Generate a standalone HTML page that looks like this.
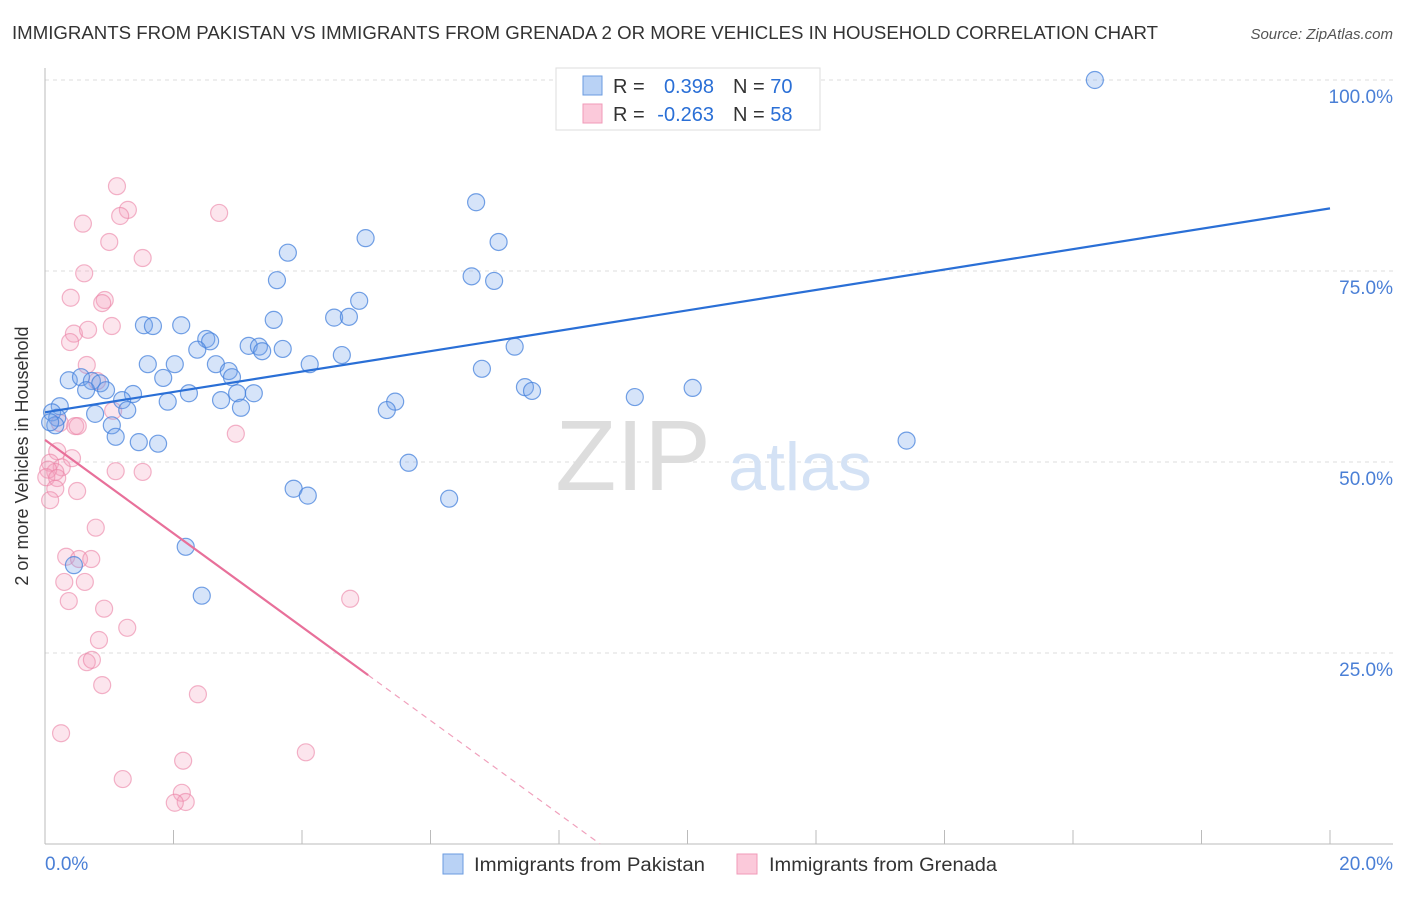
<!DOCTYPE html>
<html><head><meta charset="utf-8"><style>
body{margin:0;background:#fff;font-family:"Liberation Sans",sans-serif;}
svg text{font-family:"Liberation Sans",sans-serif;}
</style></head><body>
<svg id="chart" width="1406" height="892" xmlns="http://www.w3.org/2000/svg">
<text x="12" y="39" font-size="18" fill="#333" textLength="1146" lengthAdjust="spacingAndGlyphs">IMMIGRANTS FROM PAKISTAN VS IMMIGRANTS FROM GRENADA 2 OR MORE VEHICLES IN HOUSEHOLD CORRELATION CHART</text>
<text x="1393" y="39" font-size="15" fill="#555" font-style="italic" text-anchor="end">Source: ZipAtlas.com</text>
<g id="grid"></g>
<text x="633" y="490" font-size="100" fill="#ddd" font-family="Liberation Serif" text-anchor="middle">ZIP</text>
<text x="800" y="490" font-size="68" fill="#d4e2f5" text-anchor="middle">atlas</text>
<g id="axes"></g>
<g id="pts"></g>
<g id="trend"></g>
<text x="28" y="456" font-size="18" fill="#333" text-anchor="middle" transform="rotate(-90 28 456)">2 or more Vehicles in Household</text>
<g>
<rect x="556" y="68" width="264" height="62" fill="#fff" stroke="#ddd"/>
<rect x="583" y="76" width="19" height="19" fill="#b9d2f5" stroke="#6a9be0"/>
<rect x="583" y="104" width="19" height="19" fill="#fbc9da" stroke="#f09ab8"/>
<text x="613" y="93" font-size="20" fill="#333">R =</text>
<text x="714" y="93" font-size="20" fill="#2a6fd6" text-anchor="end">0.398</text>
<text x="733" y="93" font-size="20" fill="#333">N = <tspan fill="#2a6fd6">70</tspan></text>
<text x="613" y="121" font-size="20" fill="#333">R =</text>
<text x="714" y="121" font-size="20" fill="#2a6fd6" text-anchor="end">-0.263</text>
<text x="733" y="121" font-size="20" fill="#333">N = <tspan fill="#2a6fd6">58</tspan></text>
</g>
<g>
<rect x="443" y="854" width="20" height="20" fill="#b9d2f5" stroke="#6a9be0"/>
<text x="474" y="871" font-size="19" fill="#333" textLength="231" lengthAdjust="spacingAndGlyphs">Immigrants from Pakistan</text>
<rect x="737" y="854" width="20" height="20" fill="#fbc9da" stroke="#f09ab8"/>
<text x="769" y="871" font-size="19" fill="#333" textLength="228" lengthAdjust="spacingAndGlyphs">Immigrants from Grenada</text>
</g>
</svg>
<script>
const blueX=[16.34,6.71,4.99,7.06,3.78,6.64,6.99,3.61,4.89,4.50,4.73,3.56,1.54,1.68,2.12,2.51,2.57,2.37,3.17,3.33,3.38,3.70,4.62,7.31,1.60,2.02,2.66,4.12,6.80,2.86,2.91,0.37,0.56,0.73,0.86,1.84,0.64,0.95,1.37,2.24,2.99,3.25,1.20,1.91,2.74,5.45,7.47,7.58,9.18,10.08,0.23,1.28,0.78,3.05,5.32,0.11,0.19,0.16,0.08,1.04,1.10,1.46,1.76,13.41,5.66,3.87,4.09,6.29,2.19,0.45,2.44];
const blueY=[100.0,84.0,79.3,78.8,77.4,74.3,73.7,73.8,71.1,68.9,69.0,68.6,67.9,67.8,67.9,66.1,65.8,64.7,65.2,65.1,64.5,64.8,64.0,65.1,62.8,62.8,62.8,62.8,62.2,61.9,61.1,60.7,61.1,60.6,60.3,61.0,59.4,59.4,58.9,59.0,59.0,59.0,58.1,57.9,58.1,57.9,59.8,59.3,58.5,59.7,57.3,56.8,56.3,57.1,56.8,56.5,55.8,54.8,55.2,54.8,53.3,52.6,52.4,52.8,49.9,46.5,45.6,45.2,38.9,36.5,32.5];
const pinkX=[1.12,1.29,1.17,2.71,0.59,1.00,1.52,0.61,0.40,0.93,0.89,0.45,0.67,1.04,0.39,0.65,0.81,1.06,0.23,0.47,0.51,0.19,0.42,0.08,0.26,0.16,0.05,0.02,0.19,1.10,1.52,0.50,0.16,0.08,0.79,2.97,0.33,0.53,0.72,0.30,0.62,0.37,0.92,4.75,1.28,0.84,0.65,0.73,0.89,2.38,0.25,4.06,2.15,1.21,2.13,2.19,2.02];
const pinkY=[86.1,83.0,82.2,82.6,81.2,78.8,76.7,74.7,71.5,71.2,70.8,66.8,67.3,67.8,65.7,62.7,60.6,56.7,55.1,54.7,54.7,51.4,50.5,49.9,49.3,48.7,49.0,48.0,47.9,48.8,48.7,46.2,46.5,45.0,41.4,53.7,37.6,37.3,37.3,34.3,34.3,31.8,30.8,32.1,28.3,26.7,23.8,24.1,20.8,19.6,14.5,12.0,10.9,8.5,6.7,5.5,5.4];
const blueTrend=[[0,56.5],[20,83.2]];
const pinkTrend=[[0,52.9],[5.03,22.1]];
const pinkDash=[[5.03,22.1],[8.64,0]];
const yTicks=[25,50,75,100];
const yTickLabels=["25.0%","50.0%","75.0%","100.0%"];
const xTicks=[0,2,4,6,8,10,12,14,16,18,20];
const NS="http://www.w3.org/2000/svg";
const sx=v=>45+v/20*1285;
const sy=v=>844-v/100*764;
function mk(tag,attrs,parent){const e=document.createElementNS(NS,tag);for(const k in attrs)e.setAttribute(k,attrs[k]);document.getElementById(parent).appendChild(e);return e;}
yTicks.forEach((t,i)=>{
 const l=mk('line',{x1:45,x2:1393,y1:sy(t),y2:sy(t),stroke:'#ddd','stroke-dasharray':'4 4'},'grid');
 
 
 const tx=mk('text',{x:1393,y:sy(t)+23,'font-size':19,fill:'#4a7fd6','text-anchor':'end'},'grid');
 tx.textContent=yTickLabels[i];
 
 
});
const ya=mk('line',{x1:45,x2:45,y1:68,y2:844,stroke:'#bbb'},'axes');


const xa=mk('line',{x1:45,x2:1393,y1:844,y2:844,stroke:'#bbb'},'axes');


xTicks.forEach(t=>{
 const l=mk('line',{x1:sx(t),x2:sx(t),y1:830,y2:844,stroke:'#bbb'},'axes');
 
 
});
const x0=mk('text',{x:45,y:870,'font-size':19,fill:'#4a7fd6'},'axes');x0.textContent='0.0%';


const x1=mk('text',{x:1393,y:870,'font-size':19,fill:'#4a7fd6','text-anchor':'end'},'axes');x1.textContent='20.0%';


pinkX.forEach((v,i)=>{
 const c=mk('circle',{cx:sx(v),cy:sy(pinkY[i]),r:8.5,fill:'rgba(244,160,190,0.28)',stroke:'rgba(235,130,165,0.6)','stroke-width':1.2},'pts');
 
 
});
blueX.forEach((v,i)=>{
 const c=mk('circle',{cx:sx(v),cy:sy(blueY[i]),r:8.5,fill:'rgba(120,165,235,0.3)',stroke:'rgba(70,130,220,0.75)','stroke-width':1.2},'pts');
 
 
});
const bt=mk('line',{x1:sx(blueTrend[0][0]),y1:sy(blueTrend[0][1]),x2:sx(blueTrend[1][0]),y2:sy(blueTrend[1][1]),stroke:'#2a6fd6','stroke-width':2.2},'trend');


const pt=mk('line',{x1:sx(pinkTrend[0][0]),y1:sy(pinkTrend[0][1]),x2:sx(pinkTrend[1][0]),y2:sy(pinkTrend[1][1]),stroke:'#e8709a','stroke-width':2.2},'trend');


const pd=mk('line',{x1:sx(pinkDash[0][0]),y1:sy(pinkDash[0][1]),x2:sx(pinkDash[1][0]),y2:sy(pinkDash[1][1]),stroke:'#f0a0bc','stroke-width':1.2,'stroke-dasharray':'6 5'},'trend');


</script>
</body></html>
